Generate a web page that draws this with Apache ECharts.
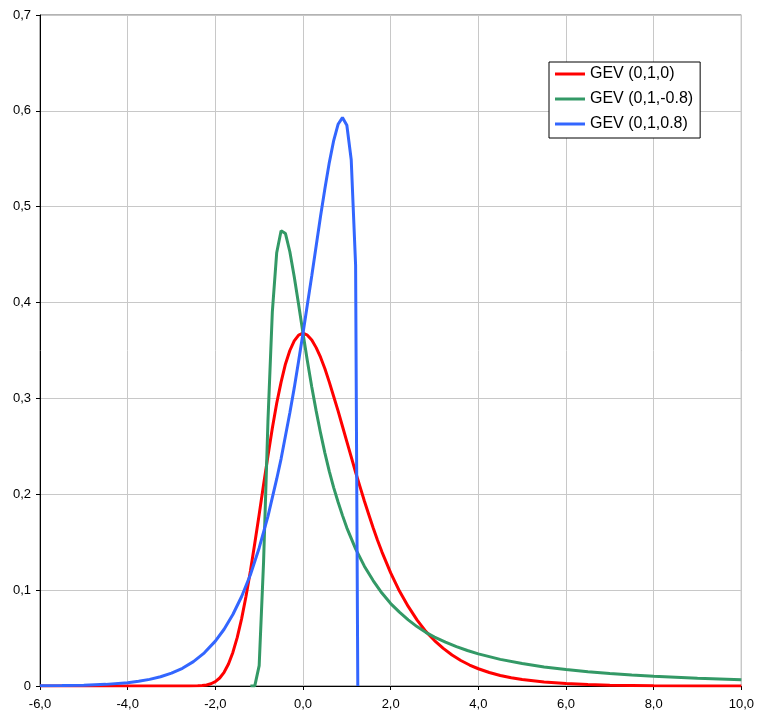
<!DOCTYPE html>
<html lang="en">
<head>
    <meta charset="UTF-8">
    <title>GEV</title>
    <script src="https://cdn.jsdelivr.net/npm/echarts@6/dist/echarts.min.js"></script>
    <style>
        html, body { margin: 0; padding: 0; background: #fff; }
        #chart_wrap { width: 757px; height: 713px; }
    </style>
</head>
<body>
<div id="chart_wrap"></div>
<script type="text/javascript">
// GEV (0,1,0)
var redX = [-6, -5, -4, -3, -2.6, -2.4, -2.3, -2.2, -2.1, -2.0, -1.9, -1.8, -1.7, -1.6, -1.5, -1.4, -1.3, -1.2, -1.1, -1.0,
    -0.9, -0.8, -0.7, -0.6, -0.5, -0.4, -0.3, -0.2, -0.1, 0, 0.1, 0.2, 0.3, 0.4, 0.5, 0.6, 0.7, 0.8, 0.9, 1.0,
    1.1, 1.2, 1.3, 1.4, 1.5, 1.6, 1.7, 1.8, 1.9, 2.0, 2.2, 2.4, 2.6, 2.8, 3.0, 3.2, 3.4, 3.6, 3.8, 4.0, 4.25, 4.5, 4.75, 5.0, 5.5, 6, 6.5, 7, 8, 9, 10];
var redY = [0, 0, 0, 0, 0.00002, 0.00018, 0.00047, 0.00108, 0.00232, 0.00457, 0.00834, 0.0143, 0.0229, 0.0350, 0.0507, 0.0703, 0.0936, 0.120, 0.149, 0.179,
    0.210, 0.240, 0.269, 0.295, 0.317, 0.336, 0.350, 0.360, 0.366, 0.368, 0.366, 0.361, 0.353, 0.343, 0.331, 0.317, 0.302, 0.287, 0.271, 0.255,
    0.239, 0.223, 0.208, 0.193, 0.179, 0.165, 0.152, 0.140, 0.129, 0.118, 0.099, 0.083, 0.069, 0.057, 0.0474, 0.0392, 0.0323, 0.0266, 0.0219, 0.0180, 0.0141, 0.0110, 0.0086, 0.0067, 0.0041, 0.0025, 0.0015, 0.0009, 0.0003, 0.0001, 0.00005];

// GEV (0,1,-0.8)
var greenX = [-1.2, -1.1, -1.0, -0.9, -0.8, -0.7, -0.6, -0.5, -0.4, -0.3, -0.2, -0.1, 0, 0.1, 0.2, 0.3, 0.4, 0.5, 0.6, 0.7,
    0.8, 0.9, 1.0, 1.2, 1.4, 1.6, 1.8, 2.0, 2.2, 2.4, 2.6, 2.8, 3.0, 3.25, 3.5, 3.75, 4.0, 4.5, 5.0, 5.5, 6, 6.5, 7, 7.5, 8, 9, 10];
var greenY = [0, 0.0001, 0.0212, 0.129, 0.276, 0.390, 0.452, 0.475, 0.472, 0.453, 0.427, 0.398, 0.368, 0.339, 0.312, 0.287, 0.264, 0.243, 0.224, 0.207,
    0.192, 0.178, 0.165, 0.143, 0.125, 0.110, 0.097, 0.086, 0.077, 0.069, 0.062, 0.056, 0.051, 0.0458, 0.0411, 0.0370, 0.0335, 0.0278, 0.0234, 0.0199, 0.0171, 0.0149, 0.0130, 0.0115, 0.0102, 0.0082, 0.0066];

// GEV (0,1,0.8)
var blueX = [-6, -5.5, -5, -4.5, -4, -3.75, -3.5, -3.25, -3, -2.75, -2.5, -2.25, -2.0, -1.8, -1.6, -1.4, -1.2, -1.0, -0.8, -0.6, -0.5, -0.4, -0.3, -0.2,
    -0.1, 0, 0.1, 0.2, 0.3, 0.4, 0.5, 0.6, 0.7, 0.8, 0.9, 1.0, 1.1, 1.2, 1.25];
var blueY = [0.0002, 0.0004, 0.0008, 0.0017, 0.0035, 0.0049, 0.0069, 0.0097, 0.0134, 0.0185, 0.0254, 0.0346, 0.0468, 0.0592, 0.0746, 0.0934, 0.116, 0.144, 0.177, 0.216, 0.237, 0.261, 0.285, 0.311,
    0.339, 0.368, 0.398, 0.428, 0.459, 0.490, 0.519, 0.546, 0.569, 0.586, 0.593, 0.585, 0.549, 0.439, 0];

var seriesNames = ["GEV (0,1,0)", "GEV (0,1,-0.8)", "GEV (0,1,0.8)"];
var seriesColors = ["#ff0000", "#339966", "#3366ff"];

function pairs(xs, ys) {
    var out = [];
    for (var i = 0; i < xs.length; i++) out.push([xs[i], ys[i]]);
    return out;
}

function comma(v, digits) {
    return v.toFixed(digits).replace(".", ",");
}

var chart = echarts.init(document.getElementById("chart_wrap"));
var lineSeries = [[redX, redY], [greenX, greenY], [blueX, blueY]].map(function (d, i) {
    return {
        name: seriesNames[i],
        type: "line",
        data: pairs(d[0], d[1]),
        showSymbol: false,
        smooth: false,
        lineStyle: { color: seriesColors[i], width: 3 },
        itemStyle: { color: seriesColors[i] }
    };
});

var option = {
    animation: false,
    grid: {
        left: 40, right: 13, top: 15, bottom: 27,
        show: true,
        borderColor: "#666",
        borderWidth: 1
    },
    legend: {
        orient: "vertical",
        left: 549,
        top: 62,
        padding: [3, 7, 5, 6],
        itemGap: 7,
        itemWidth: 30,
        itemHeight: 3,
        icon: "rect",
        borderColor: "#000",
        borderWidth: 1,
        backgroundColor: "#fff",
        textStyle: { fontFamily: "Liberation Sans", fontSize: 16, lineHeight: 18, color: "#000" },
        data: seriesNames
    },
    xAxis: {
        type: "value",
        min: -6, max: 10, interval: 2,
        axisLine: { onZero: false, lineStyle: { color: "#000", width: 1 } },
        axisTick: { show: true, length: 4, lineStyle: { color: "#000" } },
        axisLabel: {
            fontFamily: "Liberation Sans", fontSize: 13, color: "#000", margin: 12,
            formatter: function (v) { return comma(v, 1); }
        },
        splitLine: { show: true, lineStyle: { color: "#c8c8c8", width: 1 } }
    },
    yAxis: {
        type: "value",
        min: 0, max: 0.7, interval: 0.1,
        axisLine: { show: true, onZero: false, lineStyle: { color: "#000", width: 1 } },
        axisTick: { show: true, length: 4, lineStyle: { color: "#000" } },
        axisLabel: {
            fontFamily: "Liberation Sans", fontSize: 13, color: "#000", margin: 9,
            formatter: function (v) { return v === 0 ? "0" : comma(v, 1); }
        },
        splitLine: { show: true, lineStyle: { color: "#c8c8c8", width: 1 } }
    },
    series: lineSeries
};

chart.setOption(option);
</script>
</body>
</html>
